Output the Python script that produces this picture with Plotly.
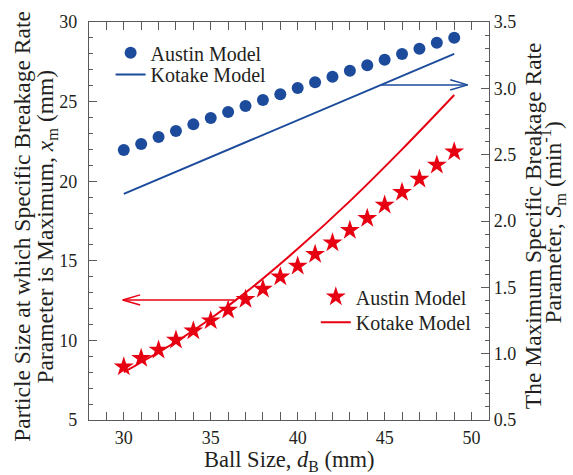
import plotly.graph_objects as go

# ---------------- data ----------------
ball_size = list(range(30, 50))
austin_xm = [21.96, 22.34, 22.78, 23.15, 23.57, 23.97, 24.35, 24.72, 25.10, 25.46,
             25.85, 26.21, 26.56, 26.94, 27.28, 27.63, 27.99, 28.32, 28.70, 29.01]
kotake_xm_x = [30, 49]
kotake_xm = [19.2, 28.0]

austin_sm = [0.902, 0.965, 1.028, 1.103, 1.173, 1.249, 1.329, 1.410, 1.488, 1.580,
             1.661, 1.749, 1.836, 1.930, 2.020, 2.121, 2.216, 2.317, 2.422, 2.522]
kotake_sm_x = [30, 33, 35, 37, 40, 43, 46, 49]
kotake_sm = [0.86, 1.09, 1.265, 1.46, 1.79, 2.15, 2.54, 2.95]

x_ticks = [30, 35, 40, 45, 50]
y_left_ticks = [5, 10, 15, 20, 25, 30]
y_right_ticks = [0.5, 1.0, 1.5, 2.0, 2.5, 3.0, 3.5]

# arrows (left-axis units): [start_x, tip_x, y]
blue_arrow = [44.8, 49.77, 26.05]
red_arrow = [36.37, 29.94, 12.54]

BLUE = "#1c4b9c"
RED = "#e60012"
TXT = "#231f20"
AX = "#5a5a5a"
FONT = "Liberation Serif, Times New Roman, serif"

fig = go.Figure()
fig.add_trace(go.Scatter(x=ball_size, y=austin_xm, mode="markers", name="Austin Model",
                         marker=dict(symbol="circle", size=12, color=BLUE), legend="legend"))
fig.add_trace(go.Scatter(x=kotake_xm_x, y=kotake_xm, mode="lines", name="Kotake Model",
                         line=dict(color=BLUE, width=2), legend="legend2"))
fig.add_trace(go.Scatter(x=ball_size, y=austin_sm, mode="markers", name="Austin Model",
                         marker=dict(symbol="star", size=15, color=RED, line=dict(width=0)),
                         yaxis="y2", legend="legend3"))
fig.add_trace(go.Scatter(x=kotake_sm_x, y=kotake_sm, mode="lines", name="Kotake Model",
                         line=dict(color=RED, width=2, shape="spline"),
                         yaxis="y2", legend="legend4"))

# arrows as shapes (open heads)
def arrow(a, color):
    x0, tip, y = a
    d = 1.0 if tip > x0 else -1.0
    hx = tip - d * 1.0
    return [
        dict(type="line", xref="x", yref="y", x0=x0, x1=tip, y0=y, y1=y,
             line=dict(color=color, width=1.5)),
        dict(type="line", xref="x", yref="y", x0=hx, x1=tip, y0=y + 0.32, y1=y,
             line=dict(color=color, width=1.5)),
        dict(type="line", xref="x", yref="y", x0=hx, x1=tip, y0=y - 0.32, y1=y,
             line=dict(color=color, width=1.5)),
    ]

axis_common = dict(
    showline=True, linecolor=AX, linewidth=1.2,
    ticks="inside", ticklen=8, tickwidth=1.2, tickcolor=AX,
    showgrid=False, zeroline=False, automargin=False,
    tickfont=dict(family=FONT, size=18, color=TXT),
)

def leg(x, y):
    return dict(x=x, y=y, xanchor="left", yanchor="top", bgcolor="rgba(0,0,0,0)",
                font=dict(family=FONT, size=20, color=TXT))

TF = dict(family=FONT, size=23.5, color=TXT)
annotations = [
    dict(text="Particle Size at which Specific Breakage Rate", xref="paper", yref="paper",
         x=-0.166, y=0.487, textangle=-90, showarrow=False, font=TF,
         xanchor="center", yanchor="middle"),
    dict(text="Parameter is Maximum, <i>x</i><sub>m</sub> (mm)", xref="paper", yref="paper",
         x=-0.104, y=0.487, textangle=-90, showarrow=False, font=TF,
         xanchor="center", yanchor="middle"),
    dict(text="The Maximum Specific Breakage Rate", xref="paper", yref="paper",
         x=1.11, y=0.487, textangle=-90, showarrow=False, font=TF,
         xanchor="center", yanchor="middle"),
    dict(text="Parameter, <i>S</i><sub>m</sub> (min<sup>-1</sup>)", xref="paper", yref="paper",
         x=1.161, y=0.497, textangle=-90, showarrow=False, font=TF,
         xanchor="center", yanchor="middle"),
    dict(text="Ball Size, <i>d</i><sub>B</sub> (mm)", xref="paper", yref="paper",
         x=0.5, y=-0.103, showarrow=False, font=dict(family=FONT, size=22.5, color=TXT),
         xanchor="center", yanchor="middle"),
]

fig.update_layout(
    width=573, height=475,
    margin=dict(l=89, r=84, t=22, b=55),
    paper_bgcolor="white", plot_bgcolor="white",
    font=dict(family=FONT, color=TXT),
    shapes=arrow(blue_arrow, BLUE) + arrow(red_arrow, RED),
    annotations=annotations,
    xaxis=dict(range=[28, 51], tickvals=x_ticks, mirror="allticks", ticklabelstandoff=1,
               minor=dict(dtick=1, ticks="inside", ticklen=4, tickcolor=AX, showgrid=False),
               **axis_common),
    yaxis=dict(range=[5, 30], tickvals=y_left_ticks, ticklabelstandoff=7,
               minor=dict(dtick=1, ticks="inside", ticklen=4, tickcolor=AX, showgrid=False),
               **axis_common),
    yaxis2=dict(range=[0.5, 3.5], tickvals=y_right_ticks, tickformat=".1f",
                overlaying="y", side="right",
                minor=dict(dtick=0.1, ticks="inside", ticklen=4, tickcolor=AX, showgrid=False),
                **axis_common),
    legend=leg(0.054, 0.9716),
    legend2=leg(0.054, 0.917),
    legend3=leg(0.567, 0.3585),
    legend4=leg(0.567, 0.2947),
    showlegend=True,
)

fig.write_html("out.html", config={"displayModeBar": False},
               post_script="document.body.style.margin='0';")
